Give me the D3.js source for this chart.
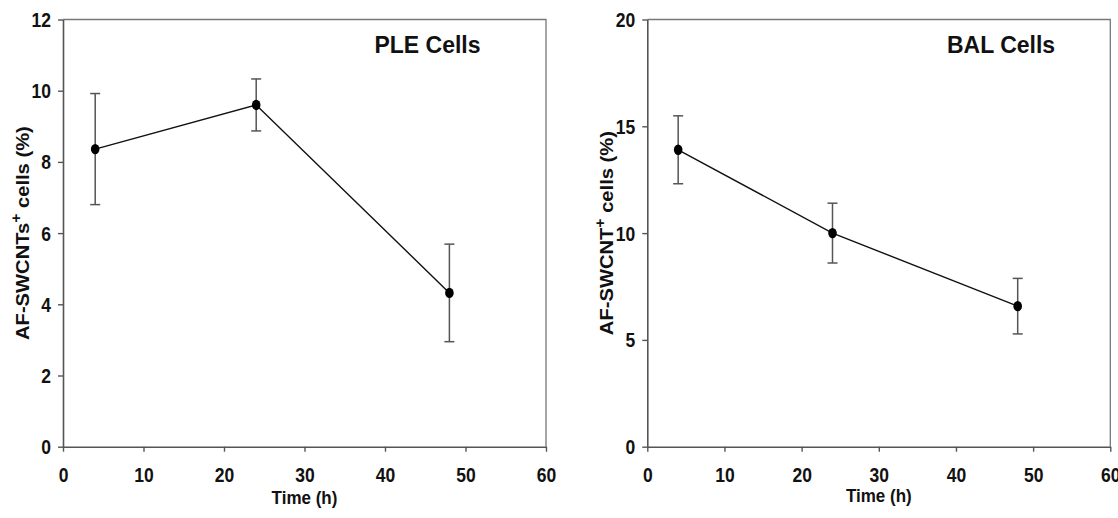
<!DOCTYPE html>
<html>
<head>
<meta charset="utf-8">
<script src="https://cdn.jsdelivr.net/npm/d3@7"></script>
<style>
  body { margin: 0; background: #fff; }
  text { font-family: "Liberation Sans", Arial, sans-serif; font-weight: bold; fill: #111; }
</style>
</head>
<body>
<div id="chart-area"></div>
<script>
const hours = [4, 24, 48]
const pleMean = [8.36, 9.6, 4.32]
const pleErr = [1.56, 0.73, 1.37]
const balMean = [13.9, 10.0, 6.58]
const balErr = [1.59, 1.4, 1.3]
const timeTicks = [0, 10, 20, 30, 40, 50, 60]
const pleTicks = [0, 2, 4, 6, 8, 10, 12]
const balTicks = [0, 5, 10, 15, 20]

const svgWidth = 1118
const svgHeight = 518
const stretch = 1.13   // the source image is a bit taller than wide

const svg = d3.select("#chart-area")
    .append("svg")
    .attr("width", svgWidth)
    .attr("height", svgHeight)

function drawPanel(p) {
    const xScale = d3.scaleLinear().domain([0, 60]).range([p.left, p.right])
    const yScale = d3.scaleLinear().domain([0, p.yMax]).range([p.bottom, p.top])

    const g = svg.append("g")

    // frame top and right
    g.append("path")
        .attr("d", `M${p.left},${p.top}H${p.right}V${p.bottom}`)
        .attr("fill", "none")
        .attr("stroke", "#777")
        .attr("stroke-width", 1.3)

    const xAxis = g.append("g")
        .attr("transform", `translate(0,${p.bottom})`)
        .call(d3.axisBottom(xScale).tickValues(timeTicks).tickSize(5).tickSizeOuter(0))
    const yAxis = g.append("g")
        .attr("transform", `translate(${p.left},0)`)
        .call(d3.axisLeft(yScale).tickValues(p.yTicks).tickSize(5).tickSizeOuter(0))

    for (const ax of [xAxis, yAxis]) {
        ax.attr("font-family", null).attr("font-size", null)
        ax.select(".domain").attr("stroke", "#555").attr("stroke-width", 1.6)
        ax.selectAll(".tick line").attr("stroke", "#555").attr("stroke-width", 1.4)
        ax.selectAll(".tick text").attr("fill", "#111").style("font-size", "17.5px")
            .attr("x", null).attr("y", null).attr("dy", null)
    }
    xAxis.selectAll(".tick text")
        .attr("transform", `translate(0,35.5) scale(1,${stretch})`)
    yAxis.selectAll(".tick text")
        .attr("transform", `translate(-12,7) scale(1,${stretch})`)

    // error bars
    const bars = g.append("g").attr("stroke", "#555").attr("stroke-width", 1.5)
    hours.forEach((h, i) => {
        const x = xScale(h)
        const y0 = yScale(p.mean[i] - p.err[i])
        const y1 = yScale(p.mean[i] + p.err[i])
        bars.append("line").attr("x1", x).attr("x2", x).attr("y1", y0).attr("y2", y1)
        bars.append("line").attr("x1", x - 5).attr("x2", x + 5).attr("y1", y0).attr("y2", y0)
        bars.append("line").attr("x1", x - 5).attr("x2", x + 5).attr("y1", y1).attr("y2", y1)
    })

    const lineGenerator = d3.line()
        .x((d, i) => xScale(hours[i]))
        .y(d => yScale(d))

    g.append("path")
        .attr("d", lineGenerator(p.mean))
        .attr("fill", "none")
        .attr("stroke", "#111")
        .attr("stroke-width", 1.4)

    g.selectAll(".dot")
        .data(p.mean)
        .join("ellipse")
        .attr("cx", (d, i) => xScale(hours[i]))
        .attr("cy", d => yScale(d))
        .attr("rx", 4.3)
        .attr("ry", 5.2)
        .attr("fill", "#000")

    // title inside plot
    g.append("text")
        .attr("transform", `translate(${p.titleX},${p.top + 33}) scale(1,1.07)`)
        .attr("text-anchor", "middle")
        .style("font-size", "23px")
        .text(p.title)

    // x label
    g.append("text")
        .attr("transform", `translate(${xScale(30)},${p.xLabelY}) scale(1,${stretch})`)
        .attr("text-anchor", "middle")
        .style("font-size", "17px")
        .text("Time (h)")

    // y label with superscript
    const yl = g.append("text")
        .attr("transform", `translate(${p.yLabelX},${(p.top + p.bottom) / 2}) rotate(-90) scale(1.12,1)`)
        .attr("text-anchor", "middle")
        .style("font-size", "18px")
    yl.append("tspan").text(p.yLabel)
    yl.append("tspan").attr("dy", -8).style("font-size", "14px").text("+")
    yl.append("tspan").attr("dy", 8).text(" cells (%)")
}

drawPanel({
    left: 63, right: 546, top: 19.5, bottom: 446.7,
    yMax: 12, yTicks: pleTicks, mean: pleMean, err: pleErr,
    title: "PLE Cells", titleX: 427.5, xLabelY: 504,
    yLabel: "AF-SWCNTs", yLabelX: 29
})

drawPanel({
    left: 647.3, right: 1110.3, top: 19.5, bottom: 446.7,
    yMax: 20, yTicks: balTicks, mean: balMean, err: balErr,
    title: "BAL Cells", titleX: 1001, xLabelY: 502,
    yLabel: "AF-SWCNT", yLabelX: 613
})
</script>
</body>
</html>
